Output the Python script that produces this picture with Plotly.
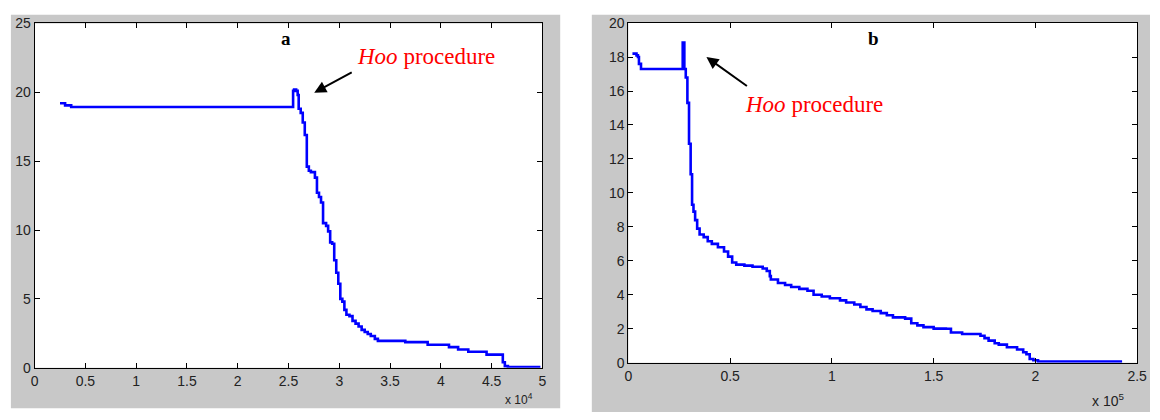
import plotly.graph_objects as go

# ---------------- data ----------------
# Panel a : x in units of 1e4
a_x = [0.25, 0.30, 0.36, 2.545, 2.555, 2.575, 2.59, 2.60, 2.62, 2.64,
       2.66, 2.68, 2.70, 2.72, 2.76, 2.78, 2.80, 2.82, 2.84, 2.87,
       2.89, 2.91, 2.93, 2.95, 2.97, 2.99, 3.01, 3.03, 3.05, 3.07,
       3.10, 3.13, 3.16, 3.19, 3.22, 3.25, 3.28, 3.31, 3.35, 3.38,
       3.65, 3.87, 4.08, 4.17, 4.27, 4.45, 4.61, 4.63, 4.66, 4.69, 4.98]
a_y = [19.2, 19.05, 18.93, 20.1, 20.2, 20.1, 19.8, 18.8, 18.5, 17.8,
       16.9, 14.6, 14.3, 14.2, 13.8, 12.7, 12.4, 12.0, 10.5, 10.3,
       9.9, 9.1, 9.0, 7.8, 6.9, 6.1, 5.0, 4.8, 4.2, 3.85,
       3.75, 3.4, 3.2, 3.0, 2.75, 2.6, 2.45, 2.3, 2.1, 1.95,
       1.86, 1.67, 1.5, 1.33, 1.16, 0.95, 0.4, 0.12, 0.05, 0.05, 0.05]

# Panel b : x in units of 1e5
b_x = [0.02, 0.04, 0.047, 0.052, 0.062, 0.267, 0.275, 0.282, 0.290, 0.298,
       0.306, 0.313, 0.320, 0.328, 0.338, 0.35, 0.37, 0.39, 0.41, 0.44,
       0.47, 0.49, 0.51, 0.53, 0.57, 0.61, 0.66, 0.68, 0.695, 0.70,
       0.735, 0.77, 0.80, 0.84, 0.88, 0.91, 0.95, 0.99, 1.04, 1.07,
       1.11, 1.14, 1.17, 1.20, 1.24, 1.27, 1.30, 1.36, 1.39, 1.42,
       1.45, 1.50, 1.56, 1.585, 1.64, 1.73, 1.75, 1.77, 1.80, 1.82,
       1.86, 1.91, 1.94, 1.956, 1.972, 1.99, 2.013, 2.426]
b_y = [18.2, 18.1, 18.0, 17.6, 17.3, 18.85, 17.3, 16.8, 15.3, 12.9,
       11.1, 9.3, 8.9, 8.4, 7.9, 7.55, 7.4, 7.15, 7.0, 6.8,
       6.55, 6.25, 5.9, 5.78, 5.72, 5.65, 5.55, 5.4, 5.1, 4.9,
       4.7, 4.58, 4.46, 4.35, 4.24, 4.0, 3.9, 3.8, 3.67, 3.55,
       3.43, 3.28, 3.14, 3.05, 2.92, 2.8, 2.67, 2.6, 2.33, 2.2,
       2.1, 2.01, 2.0, 1.78, 1.69, 1.59, 1.45, 1.3, 1.15, 1.07,
       0.91, 0.78, 0.62, 0.5, 0.22, 0.15, 0.07, 0.07]

a_xticks = [0, 0.5, 1, 1.5, 2, 2.5, 3, 3.5, 4, 4.5, 5]
a_yticks = [0, 5, 10, 15, 20, 25]
b_xticks = [0, 0.5, 1, 1.5, 2, 2.5]
b_yticks = [0, 2, 4, 6, 8, 10, 12, 14, 16, 18, 20]

# ---------------- layout helpers ----------------
W, H = 1160, 420
def px(x):
    return x / W
def py(y):
    return 1 - y / H

GRAY = "#c8c8c8"
BLUE = "#0000ff"
tickfont = dict(family="Liberation Sans, Arial, sans-serif", size=14, color="#222222")

fig = go.Figure()
fig.add_trace(go.Scatter(x=a_x, y=a_y, mode="lines", line=dict(color=BLUE, width=2.6, shape="hv"),
                         xaxis="x", yaxis="y", showlegend=False, hoverinfo="skip"))
fig.add_trace(go.Scatter(x=b_x, y=b_y, mode="lines", line=dict(color=BLUE, width=2.6, shape="hv"),
                         xaxis="x2", yaxis="y2", showlegend=False, hoverinfo="skip"))

axis_common = dict(showgrid=False, zeroline=False, showline=True, linecolor="black", linewidth=1,
                   mirror="ticks", ticks="inside", ticklen=5, tickcolor="black",
                   tickfont=tickfont, fixedrange=True)

fig.update_layout(
    width=W, height=H,
    margin=dict(l=0, r=0, t=0, b=0),
    paper_bgcolor="white", plot_bgcolor="white",
    xaxis=dict(domain=[px(31), px(545)], range=[0, 5], tickvals=a_xticks,
               ticktext=[f"{v:g}" for v in a_xticks], anchor="y", **axis_common),
    yaxis=dict(domain=[py(374), py(16)], range=[0, 25], tickvals=a_yticks, anchor="x", **axis_common),
    xaxis2=dict(domain=[px(632), px(1147)], range=[0, 2.5], tickvals=b_xticks,
                ticktext=[f"{v:g}" for v in b_xticks], anchor="y2", **axis_common),
    yaxis2=dict(domain=[py(368.8), py(15.7)], range=[0, 20], tickvals=b_yticks, anchor="x2", **axis_common),
)

# gray figure panels and white axes areas
shapes = [
    dict(type="rect", xref="paper", yref="paper", x0=px(7), x1=px(563), y0=py(416), y1=py(7),
         fillcolor=GRAY, line=dict(width=0), layer="below"),
    dict(type="rect", xref="paper", yref="paper", x0=px(595), x1=px(1160), y0=py(420), y1=py(7),
         fillcolor=GRAY, line=dict(width=0), layer="below"),
    dict(type="rect", xref="x domain", yref="y domain", x0=0, x1=1, y0=0, y1=1,
         fillcolor="white", line=dict(width=0), layer="below"),
    dict(type="rect", xref="x2 domain", yref="y2 domain", x0=0, x1=1, y0=0, y1=1,
         fillcolor="white", line=dict(width=0), layer="below"),
]
fig.update_layout(shapes=shapes)

serif = "Liberation Serif, Times New Roman, serif"
ann = [
    # panel titles
    dict(x=px(285), y=py(32), text="<b>a</b>", font=dict(family=serif, size=19, color="black")),
    dict(x=px(880), y=py(32), text="<b>b</b>", font=dict(family=serif, size=19, color="black")),
    # labels
    dict(x=px(427), y=py(50), text="<i>Hoo</i> procedure", font=dict(family=serif, size=23, color="#ff0000")),
    dict(x=px(820), y=py(100), text="<i>Hoo</i> procedure", font=dict(family=serif, size=23, color="#ff0000")),
    # exponent labels
    dict(x=px(521), y=py(406), text="x 10<sup>4</sup>", font=dict(family="Liberation Sans, Arial, sans-serif", size=12, color="#222222")),
    dict(x=px(1117), y=py(408), text="x 10<sup>5</sup>", font=dict(family="Liberation Sans, Arial, sans-serif", size=14, color="#222222")),
]
for a in ann:
    a.update(xref="paper", yref="paper", showarrow=False, xanchor="center", yanchor="middle")
    fig.add_annotation(**a)

# arrows (head position, tail offset in pixels)
arrows = [
    dict(x=px(314), y=py(88), ax=353 - 314, ay=67 - 88),
    dict(x=px(711), y=py(51), ax=753 - 711, ay=81 - 51),
]
for a in arrows:
    fig.add_annotation(xref="paper", yref="paper", text="", showarrow=True, arrowhead=2,
                       arrowsize=1.2, arrowwidth=2, arrowcolor="black", axref="pixel", ayref="pixel", **a)

css_js = (
    "var s=document.createElement('style');"
    "s.innerHTML='html,body{margin:0!important;padding:0!important;overflow:hidden;}';"
    "document.head.appendChild(s);"
)
fig.write_html("out.html", config={"displayModeBar": False, "staticPlot": True},
               post_script=css_js)
